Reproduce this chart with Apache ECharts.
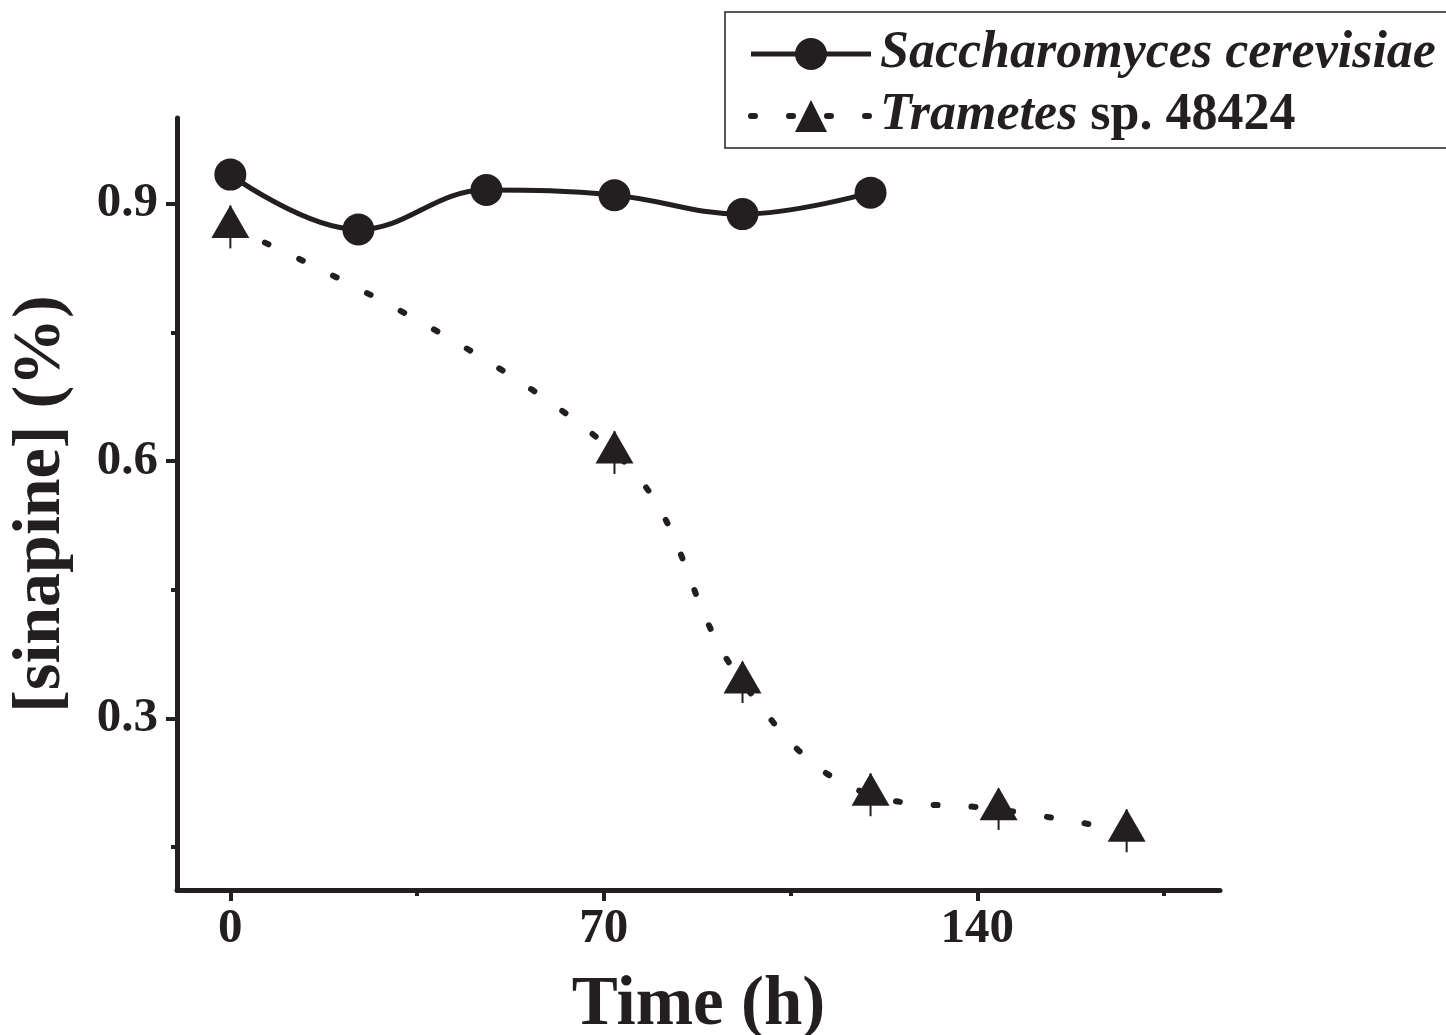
<!DOCTYPE html>
<html>
<head>
<meta charset="utf-8">
<script src="https://cdn.jsdelivr.net/npm/echarts@6/dist/echarts.min.js"></script>
<style>
html, body { margin: 0; padding: 0; background: #fff; }
#mainChart { width: 1446px; height: 1035px; }
</style>
</head>
<body>
<div id="mainChart"></div>
<script>
// sinapine vs time, two strains
var sacchTime = [0, 24, 48, 72, 96, 120];
var sacchData = [0.934, 0.870, 0.916, 0.910, 0.888, 0.913];

var trametesTime = [0, 72, 96, 120, 144, 168];
var trametesData = [0.873, 0.610, 0.342, 0.211, 0.194, 0.169];
var trametesErr = [0.025, 0.025, 0.024, 0.025, 0.024, 0.025];

var xMajorTicks = [0, 70, 140];
var xMinorTicks = [35, 105, 175];
var yMajorTicks = [0.3, 0.6, 0.9];
var yMinorTicks = [0.15, 0.45, 0.75];

var ink = '#231f20';
var serif = 'Liberation Serif';

var myChart = echarts.init(document.getElementById('mainChart'), null, { renderer: 'canvas' });

var sacchPoints = sacchTime.map(function (t, i) { return [t, sacchData[i]]; });
var trametesPoints = trametesTime.map(function (t, i) { return [t, trametesData[i]]; });
var errPoints = trametesTime.map(function (t, i) { return [t, trametesData[i], trametesErr[i]]; });

var option = {
    animation: false,
    backgroundColor: '#fff',
    grid: {
        left: 177,
        right: 226,
        top: 118,
        bottom: 145,
        outerBoundsMode: 'none'
    },
    legend: {
        orient: 'vertical',
        left: 725,
        top: 12,
        padding: [16, 400, 6, 23],
        borderColor: ink,
        borderWidth: 1.5,
        itemWidth: 120,
        itemHeight: 40,
        itemGap: 10,
        data: [{
            name: 'Saccharomyces cerevisiae',
            lineStyle: { width: 5 }
        }, {
            name: 'Trametes sp. 48424',
            lineStyle: { width: 6 }
        }],
        formatter: function (name) {
            if (name === 'Trametes sp. 48424') {
                return '{i|Trametes}{n| sp. 48424}';
            }
            return '{i|' + name + '}';
        },
        textStyle: {
            padding: [0, 0, 0, 4],
            lineHeight: 40,
            rich: {
                i: { fontFamily: serif, fontWeight: 'bold', fontStyle: 'italic', fontSize: 52, lineHeight: 40, color: ink },
                n: { fontFamily: serif, fontWeight: 'bold', fontSize: 52, lineHeight: 40, color: ink }
            }
        }
    },
    xAxis: [{
        type: 'value',
        min: -10,
        max: 185.5,
        name: 'Time (h)',
        nameLocation: 'middle',
        nameGap: 82,
        nameTextStyle: { fontFamily: serif, fontWeight: 'bold', fontSize: 69, color: ink },
        splitLine: { show: false },
        axisLine: { show: true, onZero: false, lineStyle: { color: ink, width: 5 } },
        axisTick: { show: true, customValues: xMajorTicks, length: 11, lineStyle: { color: ink, width: 4 } },
        axisLabel: {
            customValues: xMajorTicks,
            margin: 15,
            fontFamily: serif, fontWeight: 'bold', fontSize: 49, color: ink
        }
    }, {
        type: 'value',
        min: -10,
        max: 185.5,
        position: 'bottom',
        splitLine: { show: false },
        axisLine: { show: false, onZero: false },
        axisTick: { show: true, customValues: xMinorTicks, length: 6, lineStyle: { color: ink, width: 4 } },
        axisLabel: { show: false }
    }],
    yAxis: [{
        type: 'value',
        min: 0.1,
        max: 1.0,
        name: '[sinapine] (%)',
        nameLocation: 'middle',
        nameGap: 102,
        nameTextStyle: { fontFamily: serif, fontWeight: 'bold', fontSize: 68, color: ink },
        splitLine: { show: false },
        axisLine: { show: true, onZero: false, lineStyle: { color: ink, width: 5 } },
        axisTick: { show: true, customValues: yMajorTicks, length: 11, lineStyle: { color: ink, width: 4 } },
        axisLabel: {
            customValues: yMajorTicks,
            margin: 19,
            formatter: function (v) { return v.toFixed(1); },
            fontFamily: serif, fontWeight: 'bold', fontSize: 49, color: ink
        }
    }, {
        type: 'value',
        min: 0.1,
        max: 1.0,
        position: 'left',
        splitLine: { show: false },
        axisLine: { show: false, onZero: false },
        axisTick: { show: true, customValues: yMinorTicks, length: 6, lineStyle: { color: ink, width: 4 } },
        axisLabel: { show: false }
    }],
    series: [{
        name: 'Saccharomyces cerevisiae',
        type: 'line',
        data: sacchPoints,
        smooth: 0.4,
        symbol: 'circle',
        symbolSize: 32,
        lineStyle: { color: ink, width: 5 },
        itemStyle: { color: ink },
        z: 4
    }, {
        name: 'Trametes sp. 48424',
        type: 'line',
        data: trametesPoints,
        smooth: 0.4,
        symbol: 'triangle',
        symbolSize: [38, 33],
        symbolOffset: [0, -5.5],
        lineStyle: { color: ink, width: 6, type: [4, 34], cap: 'round' },
        itemStyle: { color: ink },
        z: 4
    }, {
        name: 'err',
        type: 'custom',
        data: errPoints,
        encode: { x: 0, y: 1 },
        z: 2,
        silent: true,
        renderItem: function (params, api) {
            var x = api.value(0);
            var y = api.value(1);
            var e = api.value(2);
            var lo = api.coord([x, y - e]);
            var hi = api.coord([x, y + e]);
            return {
                type: 'line',
                shape: { x1: lo[0], y1: lo[1], x2: hi[0], y2: hi[1] },
                style: { stroke: ink, lineWidth: 2 }
            };
        }
    }]
};

myChart.setOption(option);
</script>
</body>
</html>
